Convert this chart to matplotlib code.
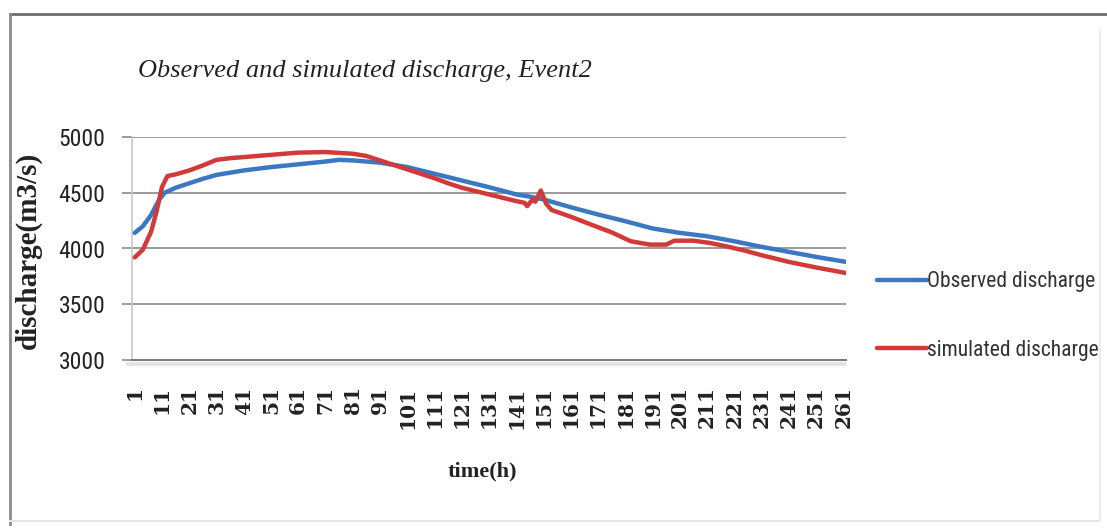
import matplotlib
matplotlib.use("Agg")
import matplotlib.pyplot as plt
from matplotlib import font_manager
from matplotlib.lines import Line2D

# ---------------- data ----------------
obs_hours = [1, 4, 7, 10, 12, 16, 21, 26, 31, 41, 51, 61, 71, 76, 81, 91, 101, 111,
             121, 131, 141, 146, 151, 161, 171, 181, 191, 201, 211, 221, 231, 241,
             251, 262]
obs_values = [4140, 4200, 4300, 4440, 4500, 4545, 4585, 4625, 4660, 4700, 4730, 4755,
              4780, 4795, 4790, 4770, 4730, 4670, 4610, 4550, 4485, 4465, 4440, 4370,
              4305, 4245, 4180, 4140, 4110, 4065, 4015, 3970, 3925, 3880]

sim_hours = [1, 4, 7, 9, 11, 13, 16, 21, 26, 31, 36, 41, 51, 61, 71, 81, 86, 91, 96,
             101, 111, 116, 121, 131, 141, 144, 145, 147, 148, 150, 152, 154, 161,
             170, 176, 183, 190, 196, 199, 206, 212, 218, 225, 231, 241, 251, 262]
sim_values = [3920, 3990, 4150, 4330, 4550, 4650, 4665, 4700, 4745, 4795, 4810, 4820,
              4840, 4860, 4865, 4850, 4830, 4790, 4750, 4710, 4630, 4585, 4545, 4485,
              4425, 4410, 4380, 4440, 4420, 4520, 4400, 4345, 4285, 4200, 4145, 4065,
              4035, 4035, 4070, 4070, 4050, 4020, 3980, 3940, 3880, 3830, 3780]

x_ticks = list(range(1, 262, 10))
y_ticks = [3000, 3500, 4000, 4500, 5000]

title_text = "Observed and simulated discharge, Event2"
series_names = ["Observed discharge", "simulated discharge"]

# ---------------- fonts ----------------
available = {f.name for f in font_manager.fontManager.ttflist}
def pick(*names):
    for n in names:
        if n in available:
            return n
    return "DejaVu Sans"
narrow = pick("Liberation Sans Narrow", "Roboto Condensed", "Open Sans Condensed",
              "Liberation Sans")
serif = pick("Liberation Serif", "DejaVu Serif")

blue = "#3b78c2"
red = "#d23a3a"

fig = plt.figure(figsize=(11.07, 5.32), dpi=100)
fig.patch.set_facecolor("white")

W, H = 1107, 532
def fx(px):
    return px / W
def fy(py):
    return 1 - py / H

ax = fig.add_axes([fx(132), fy(360), (846 - 132) / W, (360 - 137) / H])

l_obs, = ax.plot(obs_hours, obs_values, color=blue, lw=3.2, solid_capstyle="round",
                 label=series_names[0], zorder=3)
l_sim, = ax.plot(sim_hours, sim_values, color=red, lw=3.2, solid_capstyle="round",
                 label=series_names[1], zorder=4)

ax.set_xlim(0, 262)
ax.set_ylim(3000, 5000)
ax.set_yticks(y_ticks)
ax.set_yticklabels([str(v) for v in y_ticks], fontfamily=narrow, fontsize=17,
                   color="#222222")
ax.set_xticks(x_ticks)
ax.set_xticklabels([str(v) for v in x_ticks], rotation=90, fontfamily="DejaVu Serif",
                   fontweight="bold", fontsize=14.5, color="#222222")
ax.tick_params(axis="x", length=0, pad=19)
ax.tick_params(axis="y", length=7, width=1.2, color="#8a8a8a", pad=12)

ax.grid(axis="y", color="#8a8a8a", lw=1.2, zorder=1)
ax.set_axisbelow(True)
for s in ["top", "right"]:
    ax.spines[s].set_visible(False)
ax.spines["left"].set_color("#c8c8c8")
ax.spines["left"].set_linewidth(1.2)
ax.spines["bottom"].set_color("#7a7a7a")
ax.spines["bottom"].set_linewidth(1.4)

# shadow under the category axis
fig.add_artist(Line2D([fx(126), fx(846)], [fy(364), fy(364)], color="#e4e4e4", lw=3,
                      solid_capstyle="butt"))

ax.set_ylabel("discharge(m3/s)", fontfamily=serif, fontweight="bold", fontsize=21,
              color="#222222")
ax.yaxis.set_label_coords(-0.126, 0.49)
ax.set_xlabel("time(h)", fontfamily=serif, fontweight="bold", fontsize=16,
              color="#222222")
ax.xaxis.set_label_coords(0.49, -0.455)

fig.text(fx(138), fy(77), title_text, fontfamily=serif, style="italic", fontsize=19,
         color="#222222", ha="left", va="baseline")

leg = ax.legend(handles=[l_obs, l_sim], loc="center left",
                bbox_to_anchor=(fx(877), fy(316)), bbox_transform=fig.transFigure,
                frameon=False, prop={"family": narrow, "size": 15.5},
                handlelength=2.3, handletextpad=0.0, labelspacing=2.2,
                borderaxespad=0, borderpad=0)
for t in leg.get_texts():
    t.set_color("#333333")

# chart frame
fig.add_artist(Line2D([fx(10), fx(1107)], [fy(14), fy(14)], color="#6e6e6e", lw=2))
fig.add_artist(Line2D([fx(10), fx(10)], [fy(14), fy(524)], color="#8a8a8a", lw=2))
fig.add_artist(Line2D([fx(10), fx(1100)], [fy(521), fy(521)], color="#e4e4e4", lw=1.5))
fig.add_artist(Line2D([fx(1100), fx(1100)], [fy(30), fy(521)], color="#ececec", lw=1.5))

fig.savefig("out.png", dpi=100, facecolor="white")
